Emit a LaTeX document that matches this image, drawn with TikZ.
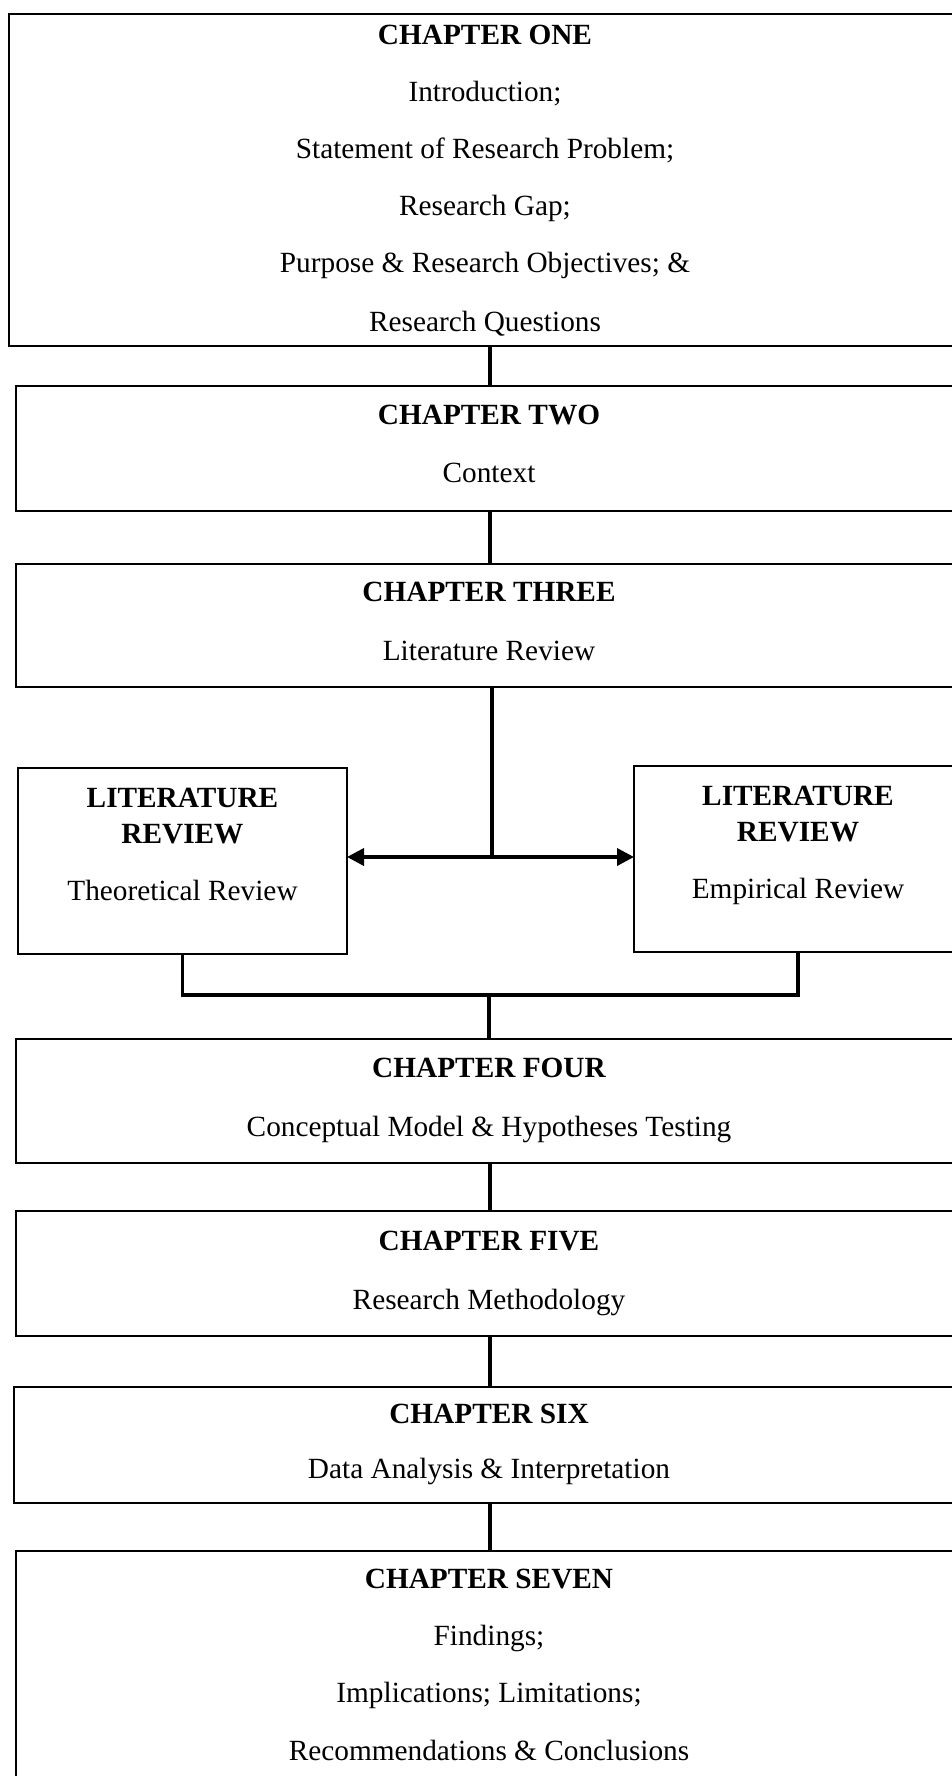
\documentclass[tikz,border=0pt]{standalone}
\usepackage{fontspec}
\setmainfont{Liberation Serif}
\usetikzlibrary{arrows.meta}
\begin{document}
\begin{tikzpicture}[x=1pt,y=-1pt,
  chapbox/.style={draw=black, line width=1.4pt, fill=white, anchor=north west,
                  inner sep=0pt, outer sep=0pt},
  head/.style={anchor=base, inner sep=0pt, font=\fontsize{29.3}{35}\selectfont\bfseries},
  body/.style={anchor=base, inner sep=0pt, font=\fontsize{29.3}{35}\selectfont},
  conn/.style={line width=3.6pt},
  >={Triangle[length=17pt,width=17pt]}
]
\useasboundingbox (0,0) rectangle (952,1776);
\clip (0,0) rectangle (952,1776);

% chapter boxes (they run past the right edge of the page)
\node[chapbox, minimum width=953pt, minimum height=332pt] (c1) at (9,14) {};
\node[chapbox, minimum width=946pt, minimum height=125pt] (c2) at (16,386) {};
\node[chapbox, minimum width=946pt, minimum height=123pt] (c3) at (16,564) {};
\node[chapbox, minimum width=329pt, minimum height=186pt] (lrT) at (18,768) {};
\node[chapbox, minimum width=328pt, minimum height=186pt] (lrE) at (634,766) {};
\node[chapbox, minimum width=946pt, minimum height=124pt] (c4) at (16,1039) {};
\node[chapbox, minimum width=946pt, minimum height=125pt] (c5) at (16,1211) {};
\node[chapbox, minimum width=948pt, minimum height=116pt] (c6) at (14,1387) {};
\node[chapbox, minimum width=946pt, minimum height=260pt] (c7) at (16,1551) {};

% texts
\node[head] (t1a) at (485,45)  {CHAPTER ONE};
\node[body] (t1b) at (485,102) {Introduction;};
\node[body] (t1c) at (485,159) {Statement of Research Problem;};
\node[body] (t1d) at (485,216) {Research Gap;};
\node[body] (t1e) at (485,273) {Purpose \& Research Objectives; \&};
\node[body] (t1f) at (485,331) {Research Questions};

\node[head] (t2a) at (489,424) {CHAPTER TWO};
\node[body] (t2b) at (489,482) {Context};

\node[head] (t3a) at (489,601) {CHAPTER THREE};
\node[body] (t3b) at (489,660) {Literature Review};

\node[head] (tTa) at (182.5,807) {LITERATURE};
\node[head] (tTb) at (182.5,843) {REVIEW};
\node[body] (tTc) at (182.5,900) {Theoretical Review};

\node[head] (tEa) at (798,805) {LITERATURE};
\node[head] (tEb) at (798,841) {REVIEW};
\node[body] (tEc) at (798,898) {Empirical Review};

\node[head] (t4a) at (489,1077) {CHAPTER FOUR};
\node[body] (t4b) at (489,1136) {Conceptual Model \& Hypotheses Testing};

\node[head] (t5a) at (489,1250) {CHAPTER FIVE};
\node[body] (t5b) at (489,1309) {Research Methodology};

\node[head] (t6a) at (489,1423) {CHAPTER SIX};
\node[body] (t6b) at (489,1478) {Data Analysis \& Interpretation};

\node[head] (t7a) at (489,1588) {CHAPTER SEVEN};
\node[body] (t7b) at (489,1645) {Findings;};
\node[body] (t7c) at (489,1702) {Implications; Limitations;};
\node[body] (t7d) at (489,1760) {Recommendations \& Conclusions};

% connectors
\coordinate (spine) at (490,0);
\coordinate (hub) at (492,857);
\coordinate (bar) at (489,995);

\draw[conn] (c1.south -| spine) -- (c2.north -| spine);
\draw[conn] (c2.south -| spine) -- (c3.north -| spine);
\draw[conn] (c3.south -| hub) -- (hub);
\draw[conn, <->] (lrT.east |- hub) -- (lrE.west |- hub);
\draw[conn] (lrT.south) -- (lrT.south |- bar) -- (lrE.south |- bar) -- (lrE.south);
\draw[conn] (bar) -- (c4.north -| bar);
\draw[conn] (c4.south -| spine) -- (c5.north -| spine);
\draw[conn] (c5.south -| spine) -- (c6.north -| spine);
\draw[conn] (c6.south -| spine) -- (c7.north -| spine);
\end{tikzpicture}
\end{document}
